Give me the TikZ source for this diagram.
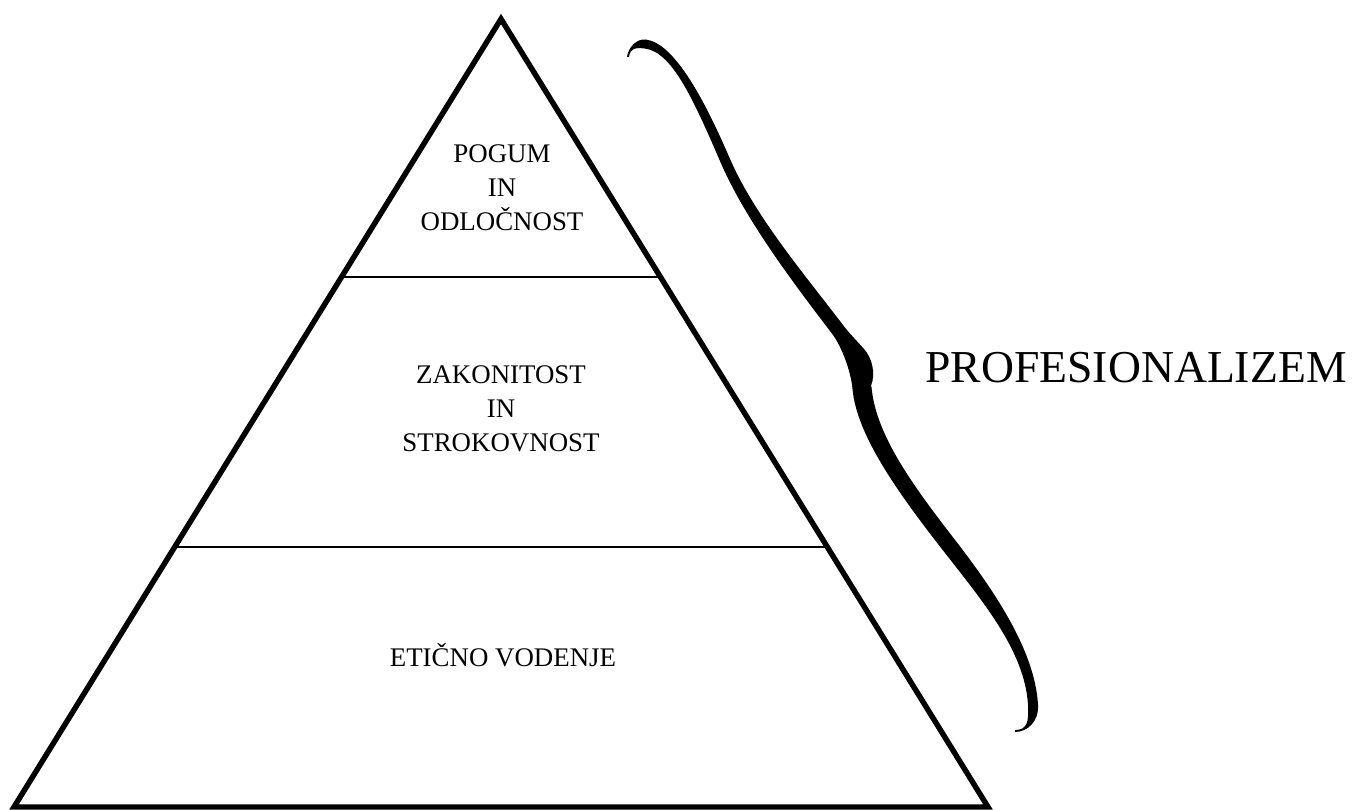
\documentclass[tikz,border=0pt]{standalone}
\usepackage{fontspec}
\setmainfont{Liberation Serif}
\usetikzlibrary{calc}
\begin{document}
\begin{tikzpicture}[x=0.02cm,y=-0.02cm,
  edge/.style={line width=3.1pt, line join=miter},
  divider/.style={line width=1.5pt},
  lbl/.style={align=center, font=\fontsize{15.3}{19.4}\selectfont, inner sep=0pt},
  biglbl/.style={font=\fontsize{26}{30}\selectfont, inner sep=0pt},
  bracefill/.style={fill=black}]
\useasboundingbox (0,0) rectangle (1352,810);
% pyramid
\coordinate (apex) at (501,19);
\coordinate (bl) at (14,807);
\coordinate (br) at (988,807);
\draw[edge] (apex) -- (bl) -- (br) -- cycle;
\coordinate (d1l) at ($(apex)!0.3274!(bl)$);
\coordinate (d1r) at ($(apex)!0.3274!(br)$);
\coordinate (d2l) at ($(apex)!0.670!(bl)$);
\coordinate (d2r) at ($(apex)!0.670!(br)$);
\draw[divider] (d1l) -- (d1r);
\draw[divider] (d2l) -- (d2r);
% labels
\node[lbl] (top) at (502,188) {POGUM\\IN\\ODLOČNOST};
\node[lbl] (mid) at (501,409) {ZAKONITOST\\IN\\STROKOVNOST};
\node[lbl] (bot) at (503,655) {ETIČNO VODENJE};
\node[biglbl] (prof) at (1136,368) {PROFESIONALIZEM};
% curly brace (filled outline)
\fill[bracefill]
  (627,56.9) .. controls (628,47.9) and (636.5,38.5) .. (645.5,39.5)
  .. controls (672.5,42.5) and (701.6,93) .. (729.6,158)
  .. controls (754.6,216) and (805.6,275.8) .. (843.6,325.8)
  .. controls (849,333) and (857,341) .. (864,349)
  .. controls (872,358) and (876,373) .. (871,386)
  -- (871.5,387.1)
  .. controls (875.5,431.1) and (906.3,477.1) .. (951.3,535.1)
  .. controls (993.3,589.1) and (1035,649.9) .. (1038,704.9)
  .. controls (1039,721.9) and (1027,732) .. (1015,732)
  -- (1015,730)
  .. controls (1027,730) and (1029,722.1) .. (1028,705.1)
  .. controls (1025,650.1) and (980.7,598.9) .. (938.7,544.9)
  .. controls (893.7,486.9) and (856.5,432.9) .. (852.5,388.9)
  .. controls (851,372) and (842,347) .. (832.4,334.2)
  .. controls (794.4,284.2) and (745.4,220) .. (720.4,162)
  .. controls (692.4,97) and (671.5,51.5) .. (644.5,48.5)
  .. controls (635.5,47.5) and (630,48.1) .. (629,57.1)
  -- cycle;
\end{tikzpicture}
\end{document}
